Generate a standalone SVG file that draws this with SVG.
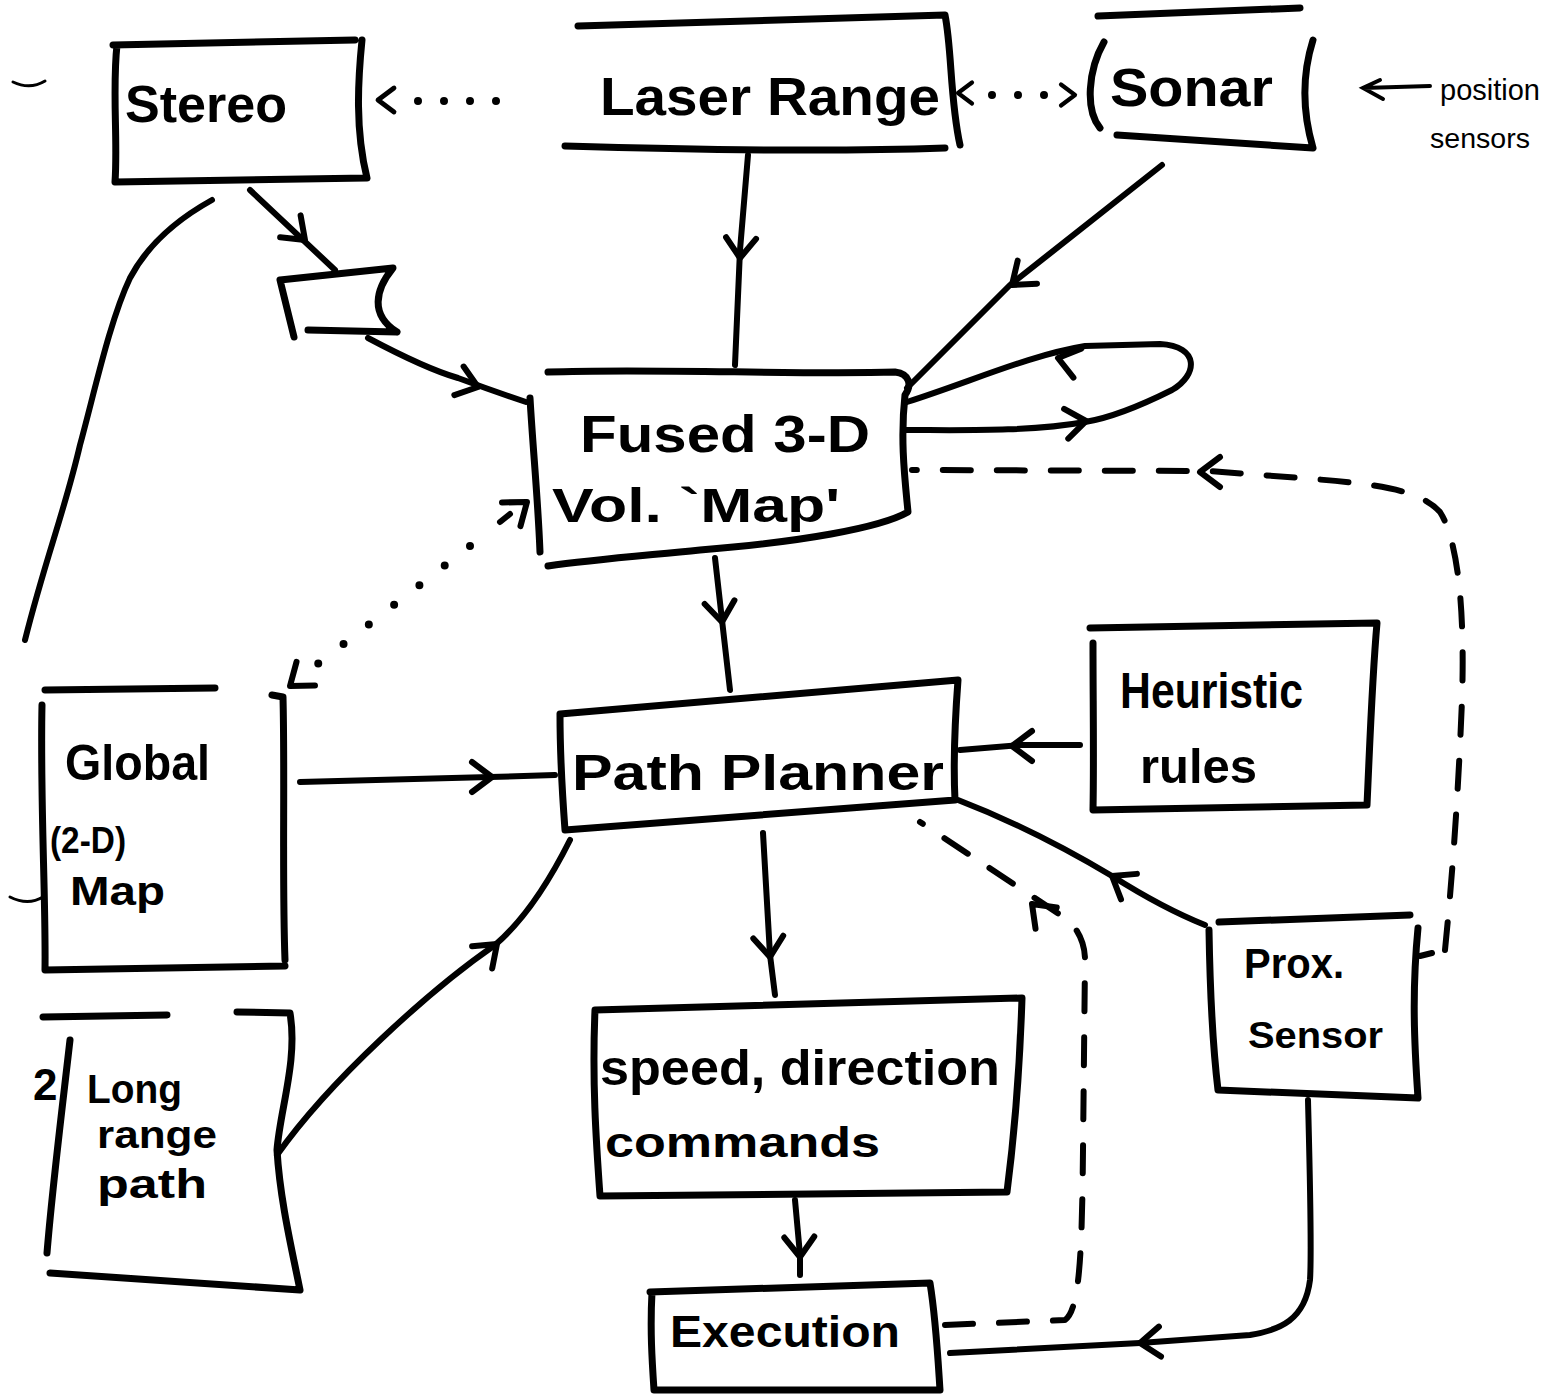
<svg xmlns="http://www.w3.org/2000/svg" width="1547" height="1395" viewBox="0 0 1547 1395">
<style>
.box{fill:none;stroke:#000;stroke-width:7;stroke-linecap:round;stroke-linejoin:round}
.ln{fill:none;stroke:#000;stroke-width:6;stroke-linecap:round;stroke-linejoin:round}
.thin{fill:none;stroke:#000;stroke-width:3;stroke-linecap:round}
.dash{stroke-dasharray:28 26}
.dot{stroke-dasharray:0 26;stroke-width:8}
.t{font-family:"Liberation Sans",Arial,sans-serif;font-weight:bold;fill:#000}
.n{font-weight:normal}
</style>
<defs>
<path id="chev" class="ln" d="M-20,-15 L0,0 L-20,15"/>
</defs>
<rect width="1547" height="1395" fill="#fff"/>

<g id="stray">
<path class="thin" d="M13,82 Q30,90 45,81"/>
<path class="thin" d="M10,897 Q28,906 43,897"/>
<path class="ln" d="M212,200 C185,215 150,240 130,278 C110,320 95,390 80,445 C65,510 45,560 25,640"/>
</g>

<g id="stereo">
<path class="box" d="M113,45 L355,40 M117,45 C112,90 118,140 115,182 L367,178 M362,40 C358,80 355,130 367,178"/>
<text class="t" x="125" y="122" font-size="52" textLength="162" lengthAdjust="spacingAndGlyphs">Stereo</text>
</g>

<g id="laser">
<path class="box" d="M578,26 L945,15 C952,50 950,100 960,145 M565,146 C700,150 830,152 945,148"/>
<text class="t" x="600" y="115" font-size="54" textLength="340" lengthAdjust="spacingAndGlyphs">Laser Range</text>
</g>

<g id="sonar">
<path class="box" d="M1098,16 L1300,8 M1104,42 C1088,70 1085,110 1100,128 M1117,135 L1313,148 M1313,40 C1302,75 1302,110 1313,148"/>
<text class="t" x="1110" y="106" font-size="54" textLength="163" lengthAdjust="spacingAndGlyphs">Sonar</text>
</g>

<g id="position">
<path class="thin" d="M1363,88 L1430,86 M1380,80 L1363,88 L1383,99" style="stroke-width:4"/>
<text class="t n" x="1440" y="100" font-size="30" textLength="100" lengthAdjust="spacingAndGlyphs">position</text>
<text class="t n" x="1430" y="148" font-size="28" textLength="100" lengthAdjust="spacingAndGlyphs">sensors</text>
</g>

<g id="smallbox">
<path class="box" d="M280,280 L393,268 C375,290 370,315 397,332 M280,280 C285,300 290,320 294,337 M308,330 L397,332"/>
</g>

<g id="fused">
<path class="box" d="M548,372 C650,368 800,375 895,372 C910,374 912,385 905,395 C900,440 905,480 908,512 C880,528 800,542 700,550 C640,556 590,560 548,566 M530,398 C533,450 538,500 540,552"/>
<text class="t" x="580" y="452" font-size="52" textLength="290" lengthAdjust="spacingAndGlyphs">Fused  3-D</text>
<text class="t" x="552" y="522" font-size="48" textLength="288" lengthAdjust="spacingAndGlyphs">Vol. `Map'</text>
</g>

<g id="global">
<path class="box" d="M45,690 L215,688 M42,705 C40,800 46,900 45,970 L285,966 M272,695 L283,697 C285,780 282,880 285,960"/>
<text class="t" x="65" y="780" font-size="50" textLength="145" lengthAdjust="spacingAndGlyphs">Global</text>
<text class="t" x="50" y="853" font-size="36" textLength="76" lengthAdjust="spacingAndGlyphs">(2-D)</text>
<text class="t" x="70" y="905" font-size="40" textLength="95" lengthAdjust="spacingAndGlyphs">Map</text>
</g>

<g id="planner">
<path class="box" d="M560,714 L958,680 C955,720 953,760 955,800 L565,830 C562,790 560,750 560,714"/>
<text class="t" x="572" y="790" font-size="50" textLength="372" lengthAdjust="spacingAndGlyphs">Path Planner</text>
</g>

<g id="heuristic">
<path class="box" d="M1090,628 L1377,623 C1372,680 1370,740 1367,805 L1093,810 C1094,760 1093,700 1093,643"/>
<text class="t" x="1120" y="708" font-size="50" textLength="183" lengthAdjust="spacingAndGlyphs">Heuristic</text>
<text class="t" x="1140" y="783" font-size="48" textLength="117" lengthAdjust="spacingAndGlyphs">rules</text>
</g>

<g id="prox">
<path class="box" d="M1219,922 L1410,915 M1209,930 C1210,990 1212,1040 1218,1090 L1418,1098 C1414,1040 1412,990 1418,928"/>
<text class="t" x="1244" y="978" font-size="42" textLength="100" lengthAdjust="spacingAndGlyphs">Prox.</text>
<text class="t" x="1248" y="1048" font-size="36" textLength="135" lengthAdjust="spacingAndGlyphs">Sensor</text>
</g>

<g id="speed">
<path class="box" d="M595,1010 L1022,998 C1020,1060 1015,1130 1007,1192 L600,1196 C596,1140 592,1080 595,1010"/>
<text class="t" x="600" y="1085" font-size="50" textLength="400" lengthAdjust="spacingAndGlyphs">speed, direction</text>
<text class="t" x="605" y="1157" font-size="42" textLength="275" lengthAdjust="spacingAndGlyphs">commands</text>
</g>

<g id="longrange">
<path class="box" d="M43,1017 L167,1015 M237,1012 L290,1013 C298,1060 280,1110 277,1150 C280,1200 292,1250 300,1290 L50,1273 M70,1040 C62,1110 52,1190 47,1253"/>
<text class="t" x="33" y="1100" font-size="44">2</text>
<text class="t" x="87" y="1103" font-size="40" textLength="95" lengthAdjust="spacingAndGlyphs">Long</text>
<text class="t" x="97" y="1148" font-size="38" textLength="120" lengthAdjust="spacingAndGlyphs">range</text>
<text class="t" x="97" y="1198" font-size="40" textLength="110" lengthAdjust="spacingAndGlyphs">path</text>
</g>

<g id="execution">
<path class="box" d="M650,1292 L930,1283 C936,1320 938,1360 940,1390 M652,1292 C650,1330 652,1360 654,1390 L940,1390"/>
<text class="t" x="670" y="1347" font-size="44" textLength="230" lengthAdjust="spacingAndGlyphs">Execution</text>
</g>

<g id="connectors">
<path class="ln dot" d="M418,101 L505,101"/>
<use href="#chev" transform="translate(378,100) rotate(180) scale(0.8)"/>
<path class="ln dot" d="M992,95 L1045,95"/>
<use href="#chev" transform="translate(958,93) rotate(180) scale(0.7)"/>
<use href="#chev" transform="translate(1075,95) scale(0.7)"/>
<path class="ln" d="M250,190 L335,270"/>
<use href="#chev" transform="translate(305,240) rotate(43)"/>
<path class="ln" d="M368,338 C400,355 430,370 458,378 C485,388 505,395 526,402"/>
<use href="#chev" transform="translate(478,387) rotate(18)"/>
<path class="ln" d="M748,155 L740,250 L735,365"/>
<use href="#chev" transform="translate(740,258) rotate(93)"/>
<path class="ln" d="M1162,165 L1010,285 L907,388"/>
<use href="#chev" transform="translate(1012,285) rotate(140)"/>
<path class="ln" d="M907,402 C970,382 1030,355 1085,346 L1160,344 C1200,346 1198,375 1172,390 C1140,406 1110,418 1085,422 C1030,432 960,430 905,430"/>
<use href="#chev" transform="translate(1058,358) rotate(-165)"/>
<use href="#chev" transform="translate(1086,421) rotate(-8)"/>
<path class="ln dash" d="M1445,950 C1452,880 1458,800 1462,700 C1465,610 1458,540 1440,512 C1420,490 1380,484 1300,478 L1210,471 L912,470"/>
<use href="#chev" transform="translate(1200,472) rotate(180)"/>
<path class="ln" d="M1420,956 L1432,953"/>
<path class="ln" d="M715,558 L722,620 L730,690"/>
<use href="#chev" transform="translate(722,622) rotate(83)"/>
<path class="ln" d="M500,522 L510,514"/>
<path class="ln dot" d="M470,546 L310,670" style="stroke-dasharray:0 32"/>
<use href="#chev" transform="translate(527,502) rotate(-38)"/>
<use href="#chev" transform="translate(290,686) rotate(142)"/>
<path class="ln" d="M300,782 L490,777 L555,775"/>
<use href="#chev" transform="translate(492,777)"/>
<path class="ln" d="M277,1155 C330,1080 430,990 495,945 C530,915 555,870 570,840"/>
<use href="#chev" transform="translate(497,944) rotate(-42)"/>
<path class="ln" d="M1080,745 L1020,745 L960,750"/>
<use href="#chev" transform="translate(1012,746) rotate(180)"/>
<path class="ln" d="M763,833 L770,955 L775,995"/>
<use href="#chev" transform="translate(770,957) rotate(85)"/>
<path class="ln" d="M795,1200 L800,1255 L800,1275"/>
<use href="#chev" transform="translate(800,1257) rotate(88)"/>
<path class="ln" d="M1205,925 C1180,915 1150,900 1112,876 C1060,845 1010,820 958,800"/>
<use href="#chev" transform="translate(1112,876) rotate(-148)"/>
<path class="ln dash" d="M945,1325 L1065,1320 C1080,1310 1082,1250 1083,1150 L1085,960 C1085,940 1075,925 1065,918 L1000,875 L920,822"/>
<use href="#chev" transform="translate(1032,904) rotate(-135)"/>
<path class="ln" d="M1308,1100 C1310,1180 1312,1250 1310,1280 C1305,1320 1280,1330 1250,1335 L1140,1343 L950,1353"/>
<use href="#chev" transform="translate(1140,1343) rotate(176)"/>
</g>
</svg>
